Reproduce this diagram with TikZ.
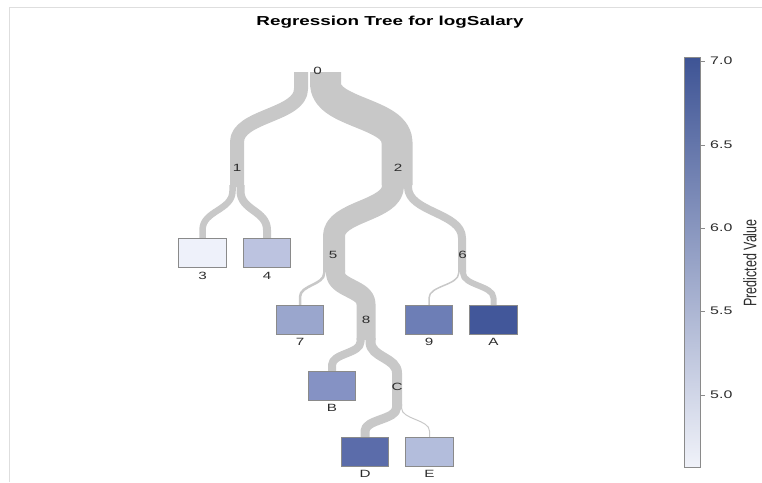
\documentclass[tikz,border=0pt]{standalone}
\usepackage{fontspec}
\setmainfont{Liberation Sans}[FakeStretch=1.45]
\newfontfamily\plainsans{Liberation Sans}
\definecolor{bandgray}{RGB}{200,200,200}
\definecolor{boxgray}{RGB}{138,138,138}
\definecolor{labgray}{RGB}{45,45,45}
\definecolor{framegray}{RGB}{222,222,222}
\definecolor{c3}{HTML}{EEF1FA}
\definecolor{c4}{HTML}{BCC3E0}
\definecolor{c7}{HTML}{9AA6CD}
\definecolor{c9}{HTML}{6D7EB6}
\definecolor{cA}{HTML}{42579A}
\definecolor{cB}{HTML}{8592C4}
\definecolor{cD}{HTML}{5B6CAA}
\definecolor{cE}{HTML}{B3BDDC}
\definecolor{cTop}{HTML}{3E5495}
\definecolor{cMid}{HTML}{9AA5CE}
\definecolor{cBot}{HTML}{F0F2F9}
\tikzset{
  band/.style={draw=bandgray, line cap=butt, line join=round},
  leaf/.style={draw=boxgray, line width=0.8pt, minimum width=47.5pt, minimum height=29.5pt, inner sep=0pt},
  lbl/.style={font=\fontsize{10.5}{10.5}\selectfont, text=labgray, inner sep=0pt},
  ticklbl/.style={font=\fontsize{11}{11}\selectfont, text=labgray, inner sep=0pt, anchor=west},
  tick/.style={draw=boxgray, line width=0.6pt},
}
% width, xs, ys, y1 (curve start), xe, y2 (curve end), target
\newcommand{\tband}[7]{\draw[band,line width=#1pt] (#2,#3) -- (#2,#4) .. controls (#2,{(#4+#6)/2}) and (#5,{(#4+#6)/2}) .. (#5,#6) -- #7;}
\begin{document}
\begin{tikzpicture}[x=1pt,y=-1pt]
\useasboundingbox (0,0) rectangle (762,482);
\draw[framegray, line width=1pt] (9.5,482) -- (9.5,7) -- (762,7);
\node[font=\bfseries\fontsize{13}{13}\selectfont, text=black] (title) at (390,22) {Regression Tree for logSalary};

% leaves
\node[leaf, fill=c3] (l3) at (202.5,253) {};
\node[leaf, fill=c4] (l4) at (267,253) {};
\node[leaf, fill=c7] (l7) at (300,320) {};
\node[leaf, fill=c9] (l9) at (429,320) {};
\node[leaf, fill=cA] (lA) at (493.5,320) {};
\node[leaf, fill=cB] (lB) at (332,386) {};
\node[leaf, fill=cD] (lD) at (365,452) {};
\node[leaf, fill=cE] (lE) at (429.5,452) {};

% split coordinates
\coordinate (s1) at (237,187);
\coordinate (s2) at (397,185);
\coordinate (s5) at (334,272);
\coordinate (s6) at (462,272);
\coordinate (s8) at (366,340);
\coordinate (sC) at (397,406);

% bands
\tband{14}{301}{72}{89}{237}{142}{(s1)}
\tband{31}{325.5}{72}{84}{397}{142}{(s2)}
\tband{6.5}{232.5}{185}{191}{202.5}{230}{(l3.north)}
\tband{8}{240.5}{185}{191}{267}{230}{(l4.north)}
\tband{22}{393}{183}{186}{334}{236}{(s5)}
\tband{8}{408}{183}{187}{462}{238}{(s6)}
\tband{2.5}{324.25}{270}{273}{300}{297}{(l7.north)}
\tband{19}{335.5}{270}{273}{366}{304}{(s8)}
\tband{1.5}{458.75}{270}{273}{429}{298}{(l9.north)}
\tband{6}{463}{270}{273}{493.5}{298}{(lA.north)}
\tband{8}{360.5}{338}{342}{332}{365}{(lB.north)}
\tband{10}{370.5}{338}{342}{397}{373}{(sC)}
\tband{9}{396.5}{404}{408}{365}{431}{(lD.north)}
\tband{1}{401.5}{404}{408}{429.5}{431}{(lE.north)}

% internal node labels
\node[lbl] (n0) at (317.5,71) {0};
\node[lbl] (n1) at (237,168) {1};
\node[lbl] (n2) at (398,168) {2};
\node[lbl] (n5) at (333,255) {5};
\node[lbl] (n6) at (462.5,255) {6};
\node[lbl] (n8) at (366,320) {8};
\node[lbl] (nC) at (397,387) {C};

% leaf labels
\node[lbl] (t3) at (202.5,276) {3};
\node[lbl] (t4) at (267,276) {4};
\node[lbl] (t7) at (300,342) {7};
\node[lbl] (t9) at (429,342) {9};
\node[lbl] (tA) at (493.5,342) {A};
\node[lbl] (tB) at (332,408) {B};
\node[lbl] (tD) at (365,474) {D};
\node[lbl] (tE) at (429.5,474) {E};

% colour bar
\shade[top color=cTop, middle color=cMid, bottom color=cBot] (684,57) rectangle (700.5,467);
\draw[boxgray, line width=0.6pt] (684,57) rectangle (700.5,467);
\foreach \yy/\tx [count=\i] in {61/7.0,145/6.5,228/6.0,311/5.5,395/5.0}{
  \draw[tick] (700.5,\yy) -- (705,\yy);
  \node[ticklbl] (tk\i) at (710,\yy) {\tx};
}
\node[rotate=90, text=labgray, inner sep=0pt] (ptitle) at (750,263) {\plainsans\fontsize{12.5}{12.5}\selectfont\scalebox{1}[1.45]{Predicted Value}};
\end{tikzpicture}
\end{document}
